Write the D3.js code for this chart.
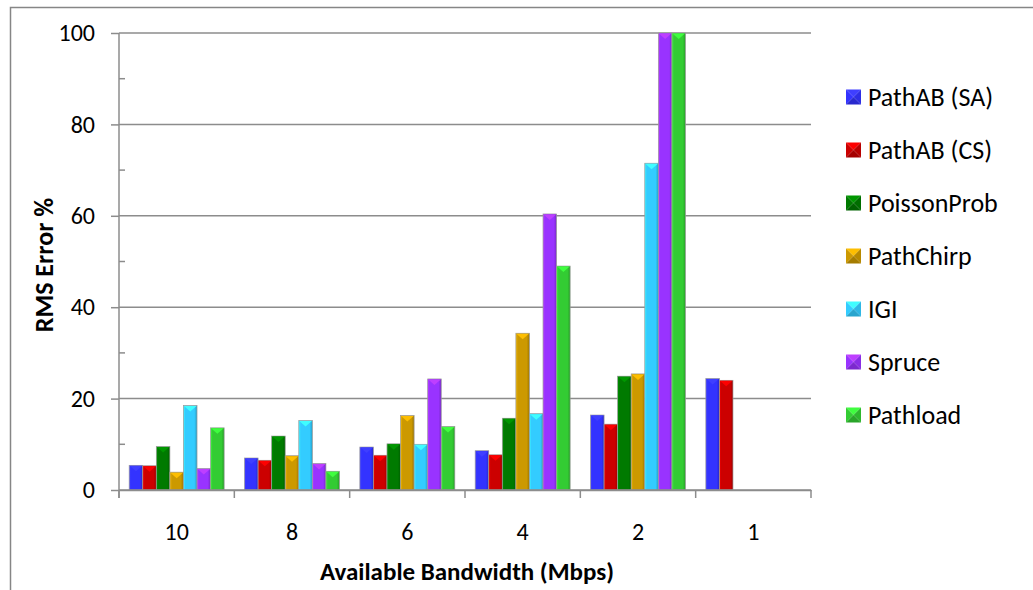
<!DOCTYPE html>
<html>
<head>
<meta charset="utf-8">
<script src="https://cdn.jsdelivr.net/npm/d3@7"></script>
<style>
  body { margin: 0; background: #fff; }
  svg { display: block; font-family: Carlito, Calibri, Lato, sans-serif; }
</style>
</head>
<body>
<script>
// data
var categories = ["10", "8", "6", "4", "2", "1"];
var seriesNames = ["PathAB (SA)", "PathAB (CS)", "PoissonProb", "PathChirp", "IGI", "Spruce", "Pathload"];
var seriesColors = ["#3333ff", "#cc0000", "#007a00", "#cc9900", "#33ccff", "#9933ff", "#33cc33"];
var pathabSA = [5.4, 7.0, 9.4, 8.6, 16.4, 24.4];
var pathabCS = [5.3, 6.5, 7.6, 7.7, 14.4, 24.0];
var poissonProb = [9.5, 11.8, 10.1, 15.7, 24.9, null];
var pathChirp = [3.9, 7.5, 16.3, 34.3, 25.4, null];
var igi = [18.5, 15.2, 10.0, 16.7, 71.5, null];
var spruce = [4.7, 5.8, 24.3, 60.4, 100, null];
var pathload = [13.6, 4.1, 13.9, 49.0, 100, null];
var yTicks = [0, 20, 40, 60, 80, 100];
var yMinorTicks = [10, 30, 50, 70, 90];

var seriesValues = [pathabSA, pathabCS, poissonProb, pathChirp, igi, spruce, pathload];

var W = 1033, H = 590;
var plot = { left: 119, right: 811, top: 33, bottom: 490 };
var fontFam = "Carlito, Calibri, Lato, sans-serif";

var svg = d3.select("body").append("svg")
  .attr("width", W)
  .attr("height", H);

// outer chart frame (runs off the right and bottom of the picture)
svg.append("rect")
  .attr("x", 10.5).attr("y", 7.5)
  .attr("width", 1100).attr("height", 700)
  .attr("fill", "none")
  .attr("stroke", "#868686")
  .attr("stroke-width", 1.5);

var x = d3.scaleBand()
  .domain(categories)
  .range([plot.left, plot.right]);

var gapHalf = x.bandwidth() * 1.5 / (7 + 1.5) / 2;
var xInner = d3.scaleBand()
  .domain(seriesNames)
  .range([gapHalf, x.bandwidth() - gapHalf]);

var y = d3.scaleLinear()
  .domain([0, 100])
  .range([plot.bottom, plot.top]);

// gradients, one per series, for the bevelled bar look
var defs = svg.append("defs");
seriesColors.forEach(function (c, i) {
  var base = d3.color(c);
  var g = defs.append("linearGradient")
    .attr("id", "grad" + i)
    .attr("x1", "0").attr("x2", "1").attr("y1", "0").attr("y2", "0");
  g.append("stop").attr("offset", "0%").attr("stop-color", base.brighter(0.5));
  g.append("stop").attr("offset", "15%").attr("stop-color", base);
  g.append("stop").attr("offset", "80%").attr("stop-color", base);
  g.append("stop").attr("offset", "100%").attr("stop-color", base.darker(0.7));
});

// gridlines
svg.append("g")
  .selectAll("line")
  .data(yTicks.slice(1))
  .enter()
  .append("line")
  .attr("x1", plot.left).attr("x2", plot.right)
  .attr("y1", function (d) { return y(d); })
  .attr("y2", function (d) { return y(d); })
  .attr("stroke", "#8c8c8c")
  .attr("stroke-width", 1.5);

// y axis
var yAxis = svg.append("g")
  .attr("transform", "translate(" + plot.left + ",0)")
  .call(d3.axisLeft(y).tickValues(yTicks).tickSize(8).tickPadding(16));
yAxis.select(".domain").attr("stroke", "#8c8c8c").attr("stroke-width", 1.5)
  .attr("d", "M0," + (plot.top) + "V" + (plot.bottom + 8));
yAxis.selectAll(".tick line").attr("stroke", "#8c8c8c").attr("stroke-width", 1.5);
yAxis.selectAll(".tick text").attr("font-size", 24).attr("fill", "#000")
  .attr("font-family", fontFam);

svg.append("g")
  .selectAll("line")
  .data(yMinorTicks)
  .enter()
  .append("line")
  .attr("x1", plot.left).attr("x2", plot.left + 6)
  .attr("y1", function (d) { return y(d); })
  .attr("y2", function (d) { return y(d); })
  .attr("stroke", "#8c8c8c")
  .attr("stroke-width", 1.5);

// x axis with ticks between categories
var xAxis = svg.append("g")
  .attr("transform", "translate(0," + plot.bottom + ")")
  .call(d3.axisBottom(x).tickSize(0).tickPadding(33));
xAxis.select(".domain").attr("stroke", "#8c8c8c").attr("stroke-width", 1.5);
xAxis.selectAll(".tick text").attr("font-size", 24).attr("fill", "#000")
  .attr("font-family", fontFam);

var bounds = categories.map(function (c) { return x(c); }).concat([plot.right]);
svg.append("g")
  .selectAll("line")
  .data(bounds)
  .enter()
  .append("line")
  .attr("x1", function (d) { return d; })
  .attr("x2", function (d) { return d; })
  .attr("y1", plot.bottom)
  .attr("y2", plot.bottom + 8)
  .attr("stroke", "#8c8c8c")
  .attr("stroke-width", 1.5);

// bars
var barData = [];
seriesValues.forEach(function (vals, i) {
  vals.forEach(function (v, j) {
    if (v !== null) barData.push({ s: i, cat: categories[j], value: v });
  });
});

var bars = svg.append("g")
  .selectAll("g")
  .data(barData)
  .enter()
  .append("g")
  .attr("transform", function (d) {
    return "translate(" + (x(d.cat) + xInner(seriesNames[d.s])) + ",0)";
  });

bars.append("rect")
  .attr("x", 0)
  .attr("y", function (d) { return y(d.value); })
  .attr("width", xInner.bandwidth())
  .attr("height", function (d) { return plot.bottom - y(d.value); })
  .attr("fill", function (d) { return "url(#grad" + d.s + ")"; })
  .attr("stroke", "#9a9a9a")
  .attr("stroke-width", 0.7);

// the little bevel triangle at the top of each bar
bars.append("path")
  .attr("d", function (d) {
    var w = xInner.bandwidth(), t = y(d.value);
    return "M0.5," + (t + 0.5) + "L" + (w - 0.5) + "," + (t + 0.5) + "L" + (w / 2) + "," + (t + 6) + "Z";
  })
  .attr("fill", function (d) { return d3.color(seriesColors[d.s]).brighter(0.6); });

// redraw the x axis baseline on top of the bars
svg.append("line")
  .attr("x1", plot.left).attr("x2", plot.right)
  .attr("y1", plot.bottom).attr("y2", plot.bottom)
  .attr("stroke", "#8c8c8c")
  .attr("stroke-width", 1.5);

// axis titles
svg.append("text")
  .attr("transform", "translate(" + 44 + "," + 265 + ") rotate(-90)")
  .attr("text-anchor", "middle")
  .attr("dy", "0.35em")
  .attr("font-size", 26)
  .attr("font-weight", "bold")
  .text("RMS Error %");

svg.append("text")
  .attr("x", (plot.left + plot.right) / 2 + 2)
  .attr("y", 571)
  .attr("text-anchor", "middle")
  .attr("dy", "0.35em")
  .attr("font-size", 25)
  .attr("font-weight", "bold")
  .text("Available Bandwidth (Mbps)");

// legend
var legend = svg.append("g")
  .selectAll("g")
  .data(seriesNames)
  .enter()
  .append("g")
  .attr("transform", function (d, i) { return "translate(853.5," + (97 + i * 53) + ")"; });

var m = 7.5;
legend.append("path")
  .attr("d", "M" + -m + "," + -m + "H" + m + "L0,0Z")
  .attr("fill", function (d, i) { return d3.color(seriesColors[i]).brighter(0.6); });
legend.append("path")
  .attr("d", "M" + -m + "," + -m + "V" + m + "L0,0Z")
  .attr("fill", function (d, i) { return seriesColors[i]; });
legend.append("path")
  .attr("d", "M" + m + "," + -m + "V" + m + "L0,0Z")
  .attr("fill", function (d, i) { return d3.color(seriesColors[i]).darker(0.3); });
legend.append("path")
  .attr("d", "M" + -m + "," + m + "H" + m + "L0,0Z")
  .attr("fill", function (d, i) { return d3.color(seriesColors[i]).darker(0.6); });

legend.append("text")
  .attr("x", 14.5)
  .attr("dy", "0.35em")
  .attr("font-size", 26)
  .text(function (d) { return d; });
</script>
</body>
</html>
